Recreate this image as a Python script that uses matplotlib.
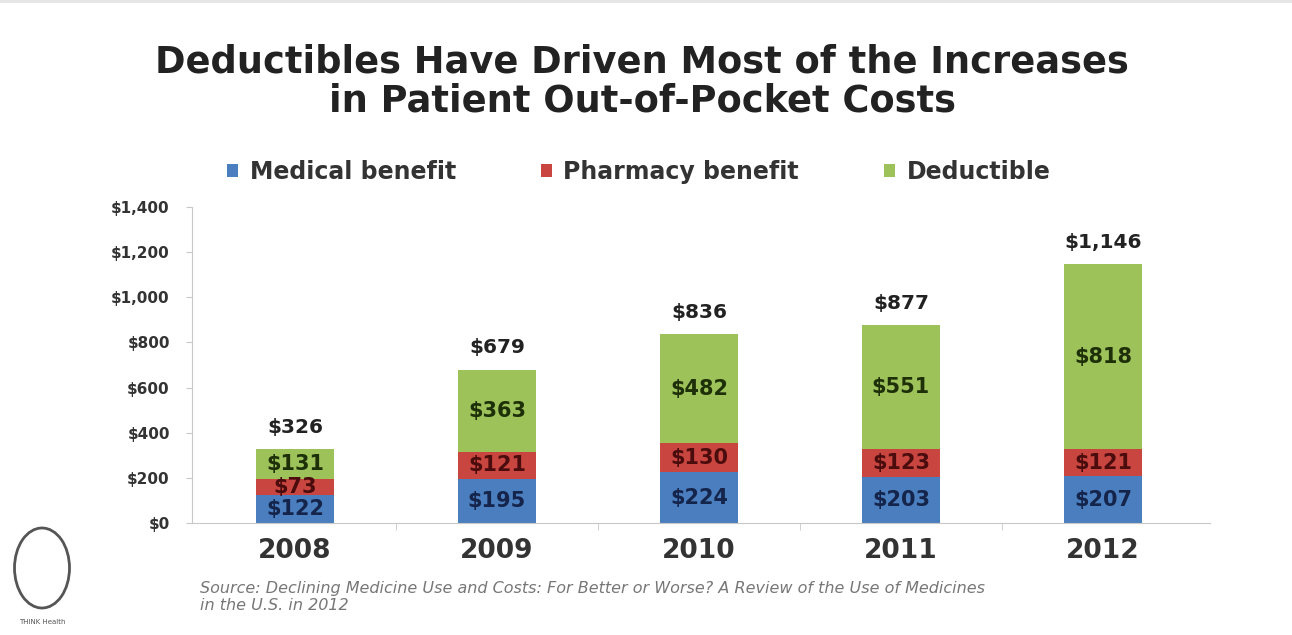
import matplotlib.pyplot as plt
from matplotlib.patches import Patch, Ellipse
import numpy as np

years = ['2008', '2009', '2010', '2011', '2012']
medical = [122, 195, 224, 203, 207]
pharmacy = [73, 121, 130, 123, 121]
deductible = [131, 363, 482, 551, 818]
totals = [326, 679, 836, 877, 1146]

series = ['Medical benefit', 'Pharmacy benefit', 'Deductible']
colors = ['#4a7ebf', '#c9453f', '#9dc25a']
label_colors = ['#14244a', '#4a0c0c', '#1e3008']

plt.rcParams['font.family'] = 'DejaVu Sans'

fig = plt.figure(figsize=(12.92, 6.35), dpi=100)
ax = fig.add_axes([192 / 1292, 1 - 523 / 635, (1210 - 192) / 1292, (523 - 207) / 635])

x = np.arange(len(years))
width = 0.39
bottom = np.zeros(len(years))
for vals, col, lcol in zip([medical, pharmacy, deductible], colors, label_colors):
    ax.bar(x, vals, width, bottom=bottom, color=col, edgecolor='none')
    for xi, b, v in zip(x, bottom, vals):
        ax.text(xi, b + v / 2, f'${v:,}', ha='center', va='center',
                fontsize=15, fontweight='bold', color=lcol)
    bottom += np.array(vals)

for xi, t in zip(x, totals):
    ax.text(xi, t + 55, f'${t:,}', ha='center', va='bottom',
            fontsize=14.5, fontweight='bold', color='#222222')

ax.set_xlim(-0.51, len(years) - 0.47)
ax.set_ylim(0, 1400)
ax.set_yticks(np.arange(0, 1401, 200))
ax.set_yticklabels([f'${v:,}' for v in range(0, 1401, 200)])
ax.set_xticks(x)
ax.set_xticklabels(years)
ax.set_xticks(x[:-1] + 0.5, minor=True)

for side in ['top', 'right']:
    ax.spines[side].set_visible(False)
for side in ['left', 'bottom']:
    ax.spines[side].set_color('#c8c8c8')
ax.tick_params(axis='y', labelsize=11, colors='#c8c8c8', labelcolor='#333333', length=4, pad=12)
ax.tick_params(axis='x', which='major', length=0, labelsize=19, labelcolor='#333333', pad=11)
ax.tick_params(axis='x', which='minor', length=5, color='#c8c8c8')
for lab in ax.get_yticklabels() + ax.get_xticklabels():
    lab.set_fontweight('bold')

fig.text(0.497, 1 - 62 / 635, 'Deductibles Have Driven Most of the Increases',
         ha='center', va='center', fontsize=26.5, fontweight='bold', color='#222222')
fig.text(0.497, 1 - 101 / 635, 'in Patient Out-of-Pocket Costs',
         ha='center', va='center', fontsize=26.5, fontweight='bold', color='#222222')

handles = [Patch(facecolor=c, edgecolor='none') for c in colors]
leg = fig.legend(handles, series, loc='center left', bbox_to_anchor=(206 / 1292, 1 - 172 / 635),
                 ncol=3, frameon=False, handlelength=0.45, handleheight=0.45,
                 handletextpad=0.5, columnspacing=3.6,
                 prop={'size': 17, 'weight': 'bold'})
for t in leg.get_texts():
    t.set_color('#333333')

fig.text(200 / 1292, 1 - 588 / 635,
         'Source: Declining Medicine Use and Costs: For Better or Worse? A Review of the Use of Medicines',
         ha='left', va='center', fontsize=11.5, style='italic', color='#777777')
fig.text(200 / 1292, 1 - 605 / 635, 'in the U.S. in 2012',
         ha='left', va='center', fontsize=11.5, style='italic', color='#777777')

# small logo in the bottom-left corner
fig.patches.append(Ellipse((42 / 1292, 1 - 568 / 635), 55 / 1292, 80 / 635,
                           transform=fig.transFigure, facecolor='none',
                           edgecolor='#555555', lw=2))
fig.text(42 / 1292, 1 - 622 / 635, 'THINK Health', ha='center', va='center',
         fontsize=5, color='#555555')

fig.patches.append(plt.Rectangle((0, 1 - 3 / 635), 1, 3 / 635, transform=fig.transFigure,
                                 facecolor='#e6e6e6', edgecolor='none'))

fig.savefig('out.png', dpi=100)
